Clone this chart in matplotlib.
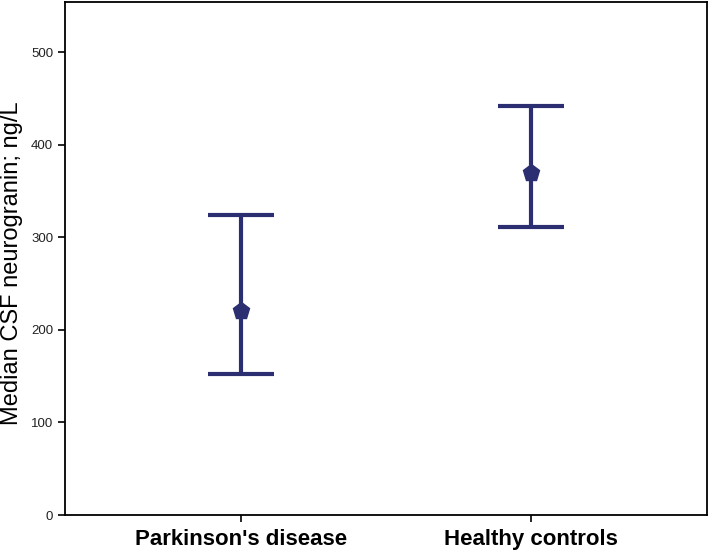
import matplotlib
matplotlib.use("Agg")
import matplotlib.pyplot as plt

groups = ["Parkinson's disease", "Healthy controls"]
medians = [220, 369]
lower = [152, 311]
upper = [324, 442]
yticks = [0, 100, 200, 300, 400, 500]

plt.rcParams['font.family'] = ['Liberation Sans', 'DejaVu Sans']
color = '#2b2f72'

fig = plt.figure(figsize=(7.09, 5.51), dpi=100)
ax = fig.add_axes([65/709, (551-515)/551, 642/709, 513/551])

x = list(range(len(groups)))
yerr = [[m - l for m, l in zip(medians, lower)], [u - m for m, u in zip(medians, upper)]]
ax.errorbar(x, medians, yerr=yerr, fmt='p', color=color, ecolor=color,
            elinewidth=3, capsize=24, capthick=3, markersize=12.5, zorder=3)

ax.set_xlim(-0.61, 1.61)
ax.set_ylim(0, 554)
ax.set_yticks(yticks)
ax.set_yticklabels([str(t) for t in yticks], fontsize=9.5, color='#222222')
ax.set_xticks(x)
ax.set_xticklabels(groups, fontsize=16, fontweight='bold')
ax.set_ylabel("Median CSF neurogranin; ng/L", fontsize=17)
ax.yaxis.set_label_coords(-0.066, 0.49)
ax.tick_params(axis='both', direction='out', length=5, width=1.2)
ax.tick_params(axis='x', pad=5)
for s in ax.spines.values():
    s.set_linewidth(1.3)

fig.savefig("out.png", dpi=100)
